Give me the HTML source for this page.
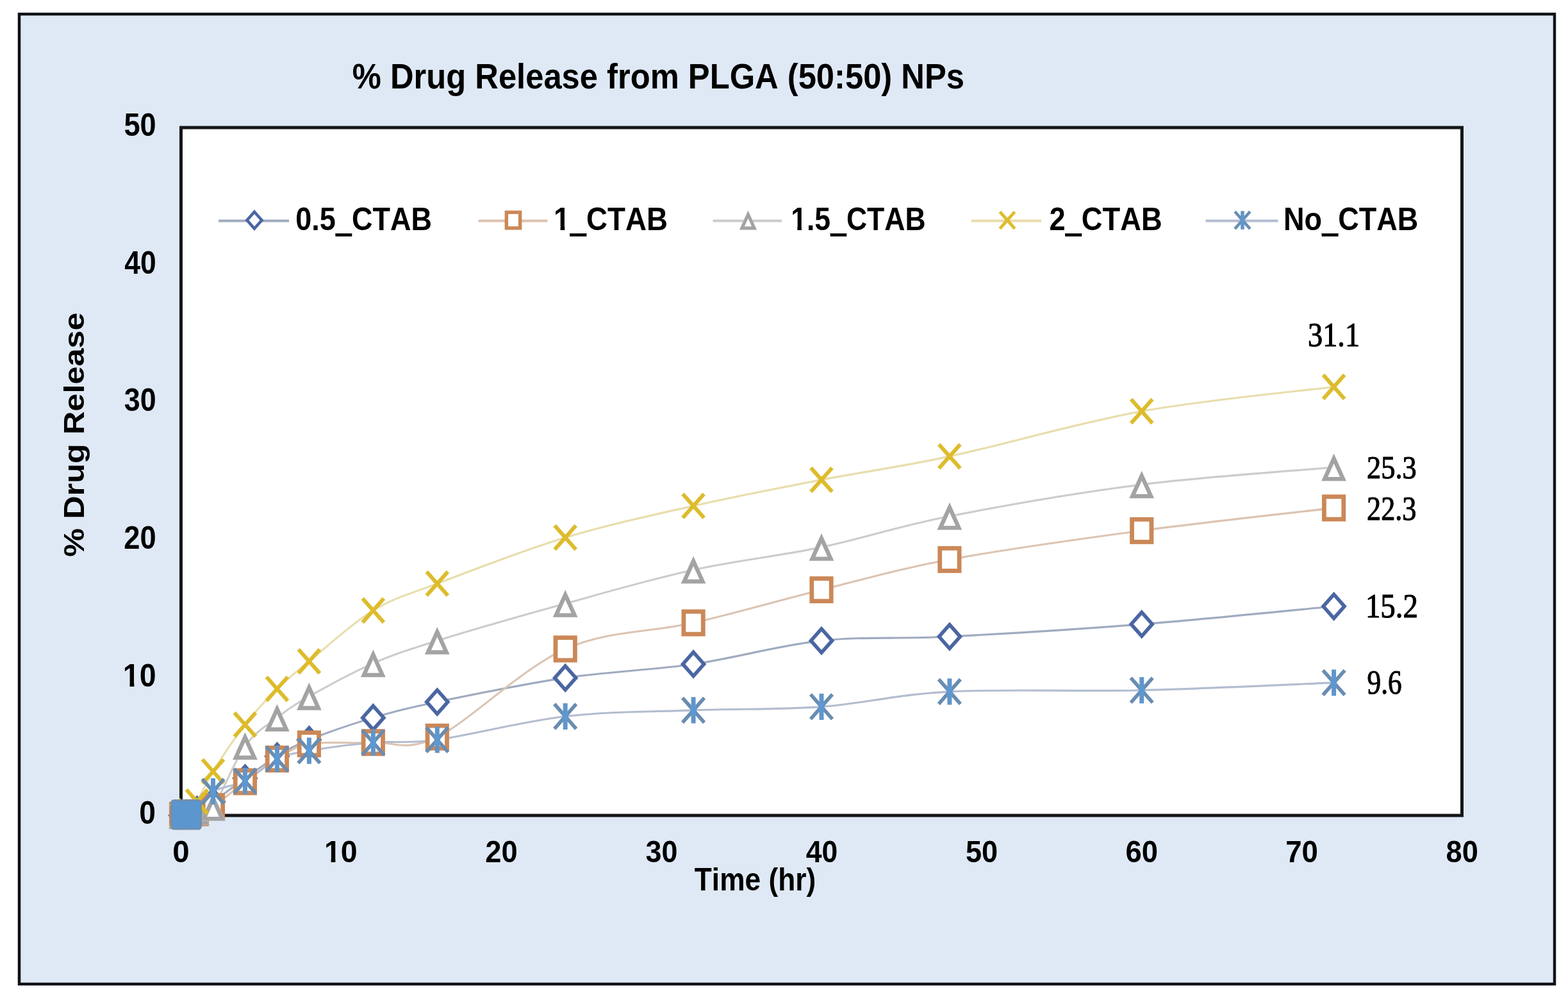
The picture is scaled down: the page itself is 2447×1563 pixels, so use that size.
<!DOCTYPE html>
<html><head><meta charset="utf-8"><title>% Drug Release from PLGA (50:50) NPs</title>
<style>
html,body{margin:0;padding:0;background:#fff;}
body{width:2447px;height:1563px;overflow:hidden;}
svg{display:block;}
text{font-kerning:none;letter-spacing:0;}
</style></head>
<body>
<svg width="2447" height="1563" viewBox="0 0 2447 1563">
<rect x="0" y="0" width="2447" height="1563" fill="#fff"/>
<rect x="30" y="22" width="2396" height="1513" fill="#DFE9F5" stroke="#101218" stroke-width="4.5"/>
<rect x="282.5" y="199.0" width="1999.0" height="1073.0" fill="#fff" stroke="#141619" stroke-width="5"/>
<text transform="translate(549.74 138.10) scale(0.9015 1)" font-family="'Liberation Sans', Arial, sans-serif" font-weight="bold" font-size="56.25" fill="#000" >% Drug Release from PLGA (50:50) NPs</text>
<line x1="341" y1="344.5" x2="451" y2="344.5" stroke="#A0ABC0" stroke-width="4.2"/>
<path d="M397.00,330.48 L408.55,343.50 L397.00,356.52 L385.45,343.50 Z" fill="#fff" stroke="#4A66A2" stroke-width="4.48" stroke-linejoin="miter" stroke-miterlimit="4"/>
<text transform="translate(461.22 358.50) scale(0.8985 1)" font-family="'Liberation Sans', Arial, sans-serif" font-weight="bold" font-size="50.15" fill="#000" >0.5_CTAB</text>
<rect x="523.41" y="362.21" width="25.89" height="2.12" fill="#fff"/>
<rect x="523.41" y="364.33" width="25.89" height="4.46" fill="#000"/>
<line x1="746.5" y1="344.5" x2="854.5" y2="344.5" stroke="#DCC4B2" stroke-width="4.2"/>
<rect x="790.36" y="331.18" width="21.28" height="24.64" fill="#fff" stroke="#CB8857" stroke-width="5.44"/>
<text transform="translate(864.12 358.50) scale(0.9124 1)" font-family="'Liberation Sans', Arial, sans-serif" font-weight="bold" font-size="50.15" fill="#000" >1_CTAB</text>
<rect x="865.01" y="352.78" width="9.58" height="6.92" fill="#fff"/>
<rect x="881.27" y="352.78" width="8.53" height="6.92" fill="#fff"/>
<rect x="889.12" y="362.21" width="26.29" height="2.12" fill="#fff"/>
<rect x="889.12" y="364.33" width="26.29" height="4.46" fill="#000"/>
<line x1="1112.5" y1="344.5" x2="1220" y2="344.5" stroke="#CCCCCC" stroke-width="4.2"/>
<path d="M1167.50,328.45 L1181.08,358.41 L1153.92,358.41 Z" fill="#fff"/><path d="M1167.50,328.45 L1181.08,358.41 L1153.92,358.41 Z M1167.50,340.85 L1161.86,353.29 L1173.14,353.29 Z" fill="#A3A3A3" fill-rule="evenodd"/>
<text transform="translate(1234.19 358.50) scale(0.8884 1)" font-family="'Liberation Sans', Arial, sans-serif" font-weight="bold" font-size="50.15" fill="#000" >1.5_CTAB</text>
<rect x="1235.06" y="352.78" width="9.33" height="6.92" fill="#fff"/>
<rect x="1250.90" y="352.78" width="8.31" height="6.92" fill="#fff"/>
<rect x="1295.69" y="362.21" width="25.60" height="2.12" fill="#fff"/>
<rect x="1295.69" y="364.33" width="25.60" height="4.46" fill="#000"/>
<line x1="1516" y1="344.5" x2="1625" y2="344.5" stroke="#E8DDAC" stroke-width="4.2"/>
<path d="M1560.38,330.41 L1583.62,356.59 M1583.62,330.41 L1560.38,356.59" fill="none" stroke="#DDBC2C" stroke-width="4.80"/>
<text transform="translate(1637.43 358.50) scale(0.9035 1)" font-family="'Liberation Sans', Arial, sans-serif" font-weight="bold" font-size="50.15" fill="#000" >2_CTAB</text>
<rect x="1662.18" y="362.21" width="26.04" height="2.12" fill="#fff"/>
<rect x="1662.18" y="364.33" width="26.04" height="4.46" fill="#000"/>
<line x1="1881.6" y1="344.5" x2="1994.5" y2="344.5" stroke="#B3BDD0" stroke-width="4.2"/>
<path d="M1927.10,329.99 L1950.90,357.01 M1950.90,329.99 L1927.10,357.01" fill="none" stroke="#6A8CB0" stroke-width="4.48"/><path d="M1939.00,329.15 L1939.00,357.85" fill="none" stroke="#5F96CC" stroke-width="5.60"/><rect x="1935.85" y="338.60" width="6.30" height="9.80" fill="#5D98D2"/>
<text transform="translate(2002.98 358.50) scale(0.8990 1)" font-family="'Liberation Sans', Arial, sans-serif" font-weight="bold" font-size="50.15" fill="#000" >No_CTAB</text>
<rect x="2062.64" y="362.21" width="25.91" height="2.12" fill="#fff"/>
<rect x="2062.64" y="364.33" width="25.91" height="4.46" fill="#000"/>
<text transform="translate(193.41 212.20) scale(0.9168 1)" font-family="'Liberation Sans', Arial, sans-serif" font-weight="bold" font-size="49.27" fill="#000" >50</text>
<text transform="translate(194.13 426.80) scale(0.9033 1)" font-family="'Liberation Sans', Arial, sans-serif" font-weight="bold" font-size="49.27" fill="#000" >40</text>
<text transform="translate(193.77 641.40) scale(0.9100 1)" font-family="'Liberation Sans', Arial, sans-serif" font-weight="bold" font-size="49.27" fill="#000" >30</text>
<text transform="translate(193.23 856.00) scale(0.9203 1)" font-family="'Liberation Sans', Arial, sans-serif" font-weight="bold" font-size="49.27" fill="#000" >20</text>
<text transform="translate(191.86 1070.60) scale(0.9461 1)" font-family="'Liberation Sans', Arial, sans-serif" font-weight="bold" font-size="49.27" fill="#000" >10</text>
<rect x="192.77" y="1064.97" width="9.77" height="6.83" fill="#DFE9F5"/>
<rect x="209.34" y="1064.97" width="8.70" height="6.83" fill="#DFE9F5"/>
<text transform="translate(217.37 1285.20) scale(0.9389 1)" font-family="'Liberation Sans', Arial, sans-serif" font-weight="bold" font-size="49.27" fill="#000" >0</text>
<text transform="translate(269.32 1345.20) scale(0.9846 1)" font-family="'Liberation Sans', Arial, sans-serif" font-weight="bold" font-size="48.26" fill="#000" >0</text>
<text transform="translate(505.94 1345.20) scale(0.9658 1)" font-family="'Liberation Sans', Arial, sans-serif" font-weight="bold" font-size="48.26" fill="#000" >10</text>
<rect x="506.85" y="1339.67" width="9.77" height="6.73" fill="#DFE9F5"/>
<rect x="523.41" y="1339.67" width="8.70" height="6.73" fill="#DFE9F5"/>
<text transform="translate(757.18 1345.20) scale(0.9394 1)" font-family="'Liberation Sans', Arial, sans-serif" font-weight="bold" font-size="48.26" fill="#000" >20</text>
<text transform="translate(1007.60 1345.20) scale(0.9289 1)" font-family="'Liberation Sans', Arial, sans-serif" font-weight="bold" font-size="48.26" fill="#000" >30</text>
<text transform="translate(1257.83 1345.20) scale(0.9220 1)" font-family="'Liberation Sans', Arial, sans-serif" font-weight="bold" font-size="48.26" fill="#000" >40</text>
<text transform="translate(1506.99 1345.20) scale(0.9359 1)" font-family="'Liberation Sans', Arial, sans-serif" font-weight="bold" font-size="48.26" fill="#000" >50</text>
<text transform="translate(1756.59 1345.20) scale(0.9412 1)" font-family="'Liberation Sans', Arial, sans-serif" font-weight="bold" font-size="48.26" fill="#000" >60</text>
<text transform="translate(2006.16 1345.20) scale(0.9470 1)" font-family="'Liberation Sans', Arial, sans-serif" font-weight="bold" font-size="48.26" fill="#000" >70</text>
<text transform="translate(2256.57 1345.20) scale(0.9368 1)" font-family="'Liberation Sans', Arial, sans-serif" font-weight="bold" font-size="48.26" fill="#000" >80</text>
<text transform="translate(1083.80 1389.00) scale(0.8959 1)" font-family="'Liberation Sans', Arial, sans-serif" font-weight="bold" font-size="49.42" fill="#000" >Time (hr)</text>
<text transform="translate(130.50 868.76) rotate(-90) scale(1.1574 1)" font-family="'Liberation Sans', Arial, sans-serif" font-weight="bold" font-size="43.61" fill="#000">% Drug Release</text>
<path d="M282.50,1272.00 C284.58,1271.64 290.83,1271.28 294.99,1269.85 C299.16,1268.42 301.24,1266.63 307.49,1263.42 C313.73,1260.20 319.98,1258.77 332.48,1250.54 C344.97,1242.31 365.79,1225.86 382.45,1214.06 C399.11,1202.26 415.77,1189.74 432.43,1179.72 C449.08,1169.71 457.41,1163.98 482.40,1153.97 C507.39,1143.96 549.03,1129.47 582.35,1119.63 C615.67,1109.80 632.32,1105.33 682.30,1094.95 C732.27,1084.58 815.57,1067.24 882.20,1057.40 C948.83,1047.56 1015.47,1045.60 1082.10,1035.94 C1148.73,1026.28 1215.37,1006.61 1282.00,999.46 C1348.63,992.30 1398.61,997.31 1481.90,993.02 C1565.19,988.73 1681.80,981.57 1781.75,973.71 C1881.70,965.84 2031.62,950.46 2081.60,945.81" fill="none" stroke="#A0ABC0" stroke-width="3.1"/>
<path d="M282.50,1272.00 C284.58,1271.64 290.83,1270.57 294.99,1269.85 C299.16,1269.14 301.24,1269.68 307.49,1267.71 C313.73,1265.74 319.98,1266.10 332.48,1258.05 C344.97,1250.00 365.79,1231.76 382.45,1219.42 C399.11,1207.08 415.77,1193.85 432.43,1184.01 C449.08,1174.18 457.41,1164.70 482.40,1160.41 C507.39,1156.12 549.03,1160.05 582.35,1158.26 C615.67,1156.47 632.32,1174.00 682.30,1149.68 C732.27,1125.36 815.57,1042.02 882.20,1012.33 C948.83,982.65 1015.47,986.94 1082.10,971.56 C1148.73,956.18 1215.37,936.51 1282.00,920.06 C1348.63,903.60 1398.61,888.22 1481.90,872.84 C1565.19,857.46 1681.80,841.19 1781.75,827.78 C1881.70,814.37 2031.62,798.27 2081.60,792.37" fill="none" stroke="#DCC4B2" stroke-width="3.1"/>
<path d="M282.50,1272.00 C284.58,1271.64 290.83,1270.93 294.99,1269.85 C299.16,1268.78 301.24,1267.35 307.49,1265.56 C313.73,1263.77 319.98,1276.11 332.48,1259.12 C344.97,1242.13 365.79,1186.88 382.45,1163.63 C399.11,1140.38 415.77,1132.51 432.43,1119.63 C449.08,1106.76 457.41,1100.50 482.40,1086.37 C507.39,1072.24 549.03,1049.35 582.35,1034.87 C615.67,1020.38 632.32,1015.02 682.30,999.46 C732.27,983.90 815.57,959.94 882.20,941.52 C948.83,923.10 1015.47,903.60 1082.10,888.94 C1148.73,874.27 1215.37,867.48 1282.00,853.53 C1348.63,839.58 1398.61,821.52 1481.90,805.25 C1565.19,788.97 1681.80,768.58 1781.75,755.89 C1881.70,743.19 2031.62,733.53 2081.60,729.06" fill="none" stroke="#CCCCCC" stroke-width="3.1"/>
<path d="M282.50,1272.00 C284.58,1270.93 290.83,1269.14 294.99,1265.56 C299.16,1261.99 301.24,1260.91 307.49,1250.54 C313.73,1240.17 319.98,1223.36 332.48,1203.33 C344.97,1183.30 365.79,1151.82 382.45,1130.36 C399.11,1108.90 415.77,1091.02 432.43,1074.57 C449.08,1058.12 457.41,1052.04 482.40,1031.65 C507.39,1011.26 549.03,972.45 582.35,952.25 C615.67,932.04 632.32,929.36 682.30,910.40 C732.27,891.44 815.57,858.72 882.20,838.51 C948.83,818.30 1015.47,804.17 1082.10,789.15 C1148.73,774.13 1215.37,761.25 1282.00,748.38 C1348.63,735.50 1398.61,729.71 1481.90,711.89 C1565.19,694.08 1681.80,659.57 1781.75,641.51 C1881.70,623.44 2031.62,609.85 2081.60,603.52" fill="none" stroke="#E8DDAC" stroke-width="3.1"/>
<path d="M282.50,1269.85 C284.58,1269.85 286.66,1275.76 294.99,1269.85 C303.32,1263.95 317.90,1243.03 332.48,1234.44 C347.05,1225.86 365.79,1226.76 382.45,1218.35 C399.11,1209.94 415.77,1191.88 432.43,1184.01 C449.08,1176.15 457.41,1175.43 482.40,1171.14 C507.39,1166.85 549.03,1161.12 582.35,1158.26 C615.67,1155.40 632.32,1160.77 682.30,1153.97 C732.27,1147.17 815.57,1125.18 882.20,1117.49 C948.83,1109.80 1015.47,1110.33 1082.10,1107.83 C1148.73,1105.33 1215.37,1107.29 1282.00,1102.47 C1348.63,1097.64 1398.61,1083.15 1481.90,1078.86 C1565.19,1074.57 1681.80,1079.04 1781.75,1076.71 C1881.70,1074.39 2031.62,1066.88 2081.60,1064.91" fill="none" stroke="#B3BDD0" stroke-width="3.1"/>
<path d="M282.50,1253.40 L299.00,1272.00 L282.50,1290.60 L266.00,1272.00 Z" fill="#fff" stroke="#4A66A2" stroke-width="5.60" stroke-linejoin="miter" stroke-miterlimit="4"/>
<path d="M294.99,1251.25 L311.49,1269.85 L294.99,1288.45 L278.49,1269.85 Z" fill="#fff" stroke="#4A66A2" stroke-width="5.60" stroke-linejoin="miter" stroke-miterlimit="4"/>
<path d="M307.49,1244.82 L323.99,1263.42 L307.49,1282.02 L290.99,1263.42 Z" fill="#fff" stroke="#4A66A2" stroke-width="5.60" stroke-linejoin="miter" stroke-miterlimit="4"/>
<path d="M332.48,1231.94 L348.98,1250.54 L332.48,1269.14 L315.98,1250.54 Z" fill="#fff" stroke="#4A66A2" stroke-width="5.60" stroke-linejoin="miter" stroke-miterlimit="4"/>
<path d="M382.45,1195.46 L398.95,1214.06 L382.45,1232.66 L365.95,1214.06 Z" fill="#fff" stroke="#4A66A2" stroke-width="5.60" stroke-linejoin="miter" stroke-miterlimit="4"/>
<path d="M432.43,1161.12 L448.93,1179.72 L432.43,1198.32 L415.93,1179.72 Z" fill="#fff" stroke="#4A66A2" stroke-width="5.60" stroke-linejoin="miter" stroke-miterlimit="4"/>
<path d="M482.40,1135.37 L498.90,1153.97 L482.40,1172.57 L465.90,1153.97 Z" fill="#fff" stroke="#4A66A2" stroke-width="5.60" stroke-linejoin="miter" stroke-miterlimit="4"/>
<path d="M582.35,1101.03 L598.85,1119.63 L582.35,1138.23 L565.85,1119.63 Z" fill="#fff" stroke="#4A66A2" stroke-width="5.60" stroke-linejoin="miter" stroke-miterlimit="4"/>
<path d="M682.30,1076.36 L698.80,1094.95 L682.30,1113.55 L665.80,1094.95 Z" fill="#fff" stroke="#4A66A2" stroke-width="5.60" stroke-linejoin="miter" stroke-miterlimit="4"/>
<path d="M882.20,1038.80 L898.70,1057.40 L882.20,1076.00 L865.70,1057.40 Z" fill="#fff" stroke="#4A66A2" stroke-width="5.60" stroke-linejoin="miter" stroke-miterlimit="4"/>
<path d="M1082.10,1017.34 L1098.60,1035.94 L1082.10,1054.54 L1065.60,1035.94 Z" fill="#fff" stroke="#4A66A2" stroke-width="5.60" stroke-linejoin="miter" stroke-miterlimit="4"/>
<path d="M1282.00,980.86 L1298.50,999.46 L1282.00,1018.06 L1265.50,999.46 Z" fill="#fff" stroke="#4A66A2" stroke-width="5.60" stroke-linejoin="miter" stroke-miterlimit="4"/>
<path d="M1481.90,974.42 L1498.40,993.02 L1481.90,1011.62 L1465.40,993.02 Z" fill="#fff" stroke="#4A66A2" stroke-width="5.60" stroke-linejoin="miter" stroke-miterlimit="4"/>
<path d="M1781.75,955.11 L1798.25,973.71 L1781.75,992.31 L1765.25,973.71 Z" fill="#fff" stroke="#4A66A2" stroke-width="5.60" stroke-linejoin="miter" stroke-miterlimit="4"/>
<path d="M2081.60,927.21 L2098.10,945.81 L2081.60,964.41 L2065.10,945.81 Z" fill="#fff" stroke="#4A66A2" stroke-width="5.60" stroke-linejoin="miter" stroke-miterlimit="4"/>
<rect x="267.30" y="1254.40" width="30.40" height="35.20" fill="#fff" stroke="#CB8857" stroke-width="6.80"/>
<rect x="279.79" y="1252.25" width="30.40" height="35.20" fill="#fff" stroke="#CB8857" stroke-width="6.80"/>
<rect x="292.29" y="1250.11" width="30.40" height="35.20" fill="#fff" stroke="#CB8857" stroke-width="6.80"/>
<rect x="317.28" y="1240.45" width="30.40" height="35.20" fill="#fff" stroke="#CB8857" stroke-width="6.80"/>
<rect x="367.25" y="1201.82" width="30.40" height="35.20" fill="#fff" stroke="#CB8857" stroke-width="6.80"/>
<rect x="417.23" y="1166.41" width="30.40" height="35.20" fill="#fff" stroke="#CB8857" stroke-width="6.80"/>
<rect x="467.20" y="1142.81" width="30.40" height="35.20" fill="#fff" stroke="#CB8857" stroke-width="6.80"/>
<rect x="567.15" y="1140.66" width="30.40" height="35.20" fill="#fff" stroke="#CB8857" stroke-width="6.80"/>
<rect x="667.10" y="1132.08" width="30.40" height="35.20" fill="#fff" stroke="#CB8857" stroke-width="6.80"/>
<rect x="867.00" y="994.73" width="30.40" height="35.20" fill="#fff" stroke="#CB8857" stroke-width="6.80"/>
<rect x="1066.90" y="953.96" width="30.40" height="35.20" fill="#fff" stroke="#CB8857" stroke-width="6.80"/>
<rect x="1266.80" y="902.46" width="30.40" height="35.20" fill="#fff" stroke="#CB8857" stroke-width="6.80"/>
<rect x="1466.70" y="855.24" width="30.40" height="35.20" fill="#fff" stroke="#CB8857" stroke-width="6.80"/>
<rect x="1766.55" y="810.18" width="30.40" height="35.20" fill="#fff" stroke="#CB8857" stroke-width="6.80"/>
<rect x="2066.40" y="774.77" width="30.40" height="35.20" fill="#fff" stroke="#CB8857" stroke-width="6.80"/>
<path d="M282.50,1250.50 L301.90,1293.30 L263.10,1293.30 Z" fill="#fff"/><path d="M282.50,1250.50 L301.90,1293.30 L263.10,1293.30 Z M282.50,1266.00 L273.03,1286.90 L291.97,1286.90 Z" fill="#A3A3A3" fill-rule="evenodd"/>
<path d="M294.99,1248.35 L314.39,1291.15 L275.59,1291.15 Z" fill="#fff"/><path d="M294.99,1248.35 L314.39,1291.15 L275.59,1291.15 Z M294.99,1263.86 L285.52,1284.75 L304.47,1284.75 Z" fill="#A3A3A3" fill-rule="evenodd"/>
<path d="M307.49,1244.06 L326.89,1286.86 L288.09,1286.86 Z" fill="#fff"/><path d="M307.49,1244.06 L326.89,1286.86 L288.09,1286.86 Z M307.49,1259.56 L298.02,1280.46 L316.96,1280.46 Z" fill="#A3A3A3" fill-rule="evenodd"/>
<path d="M332.48,1237.62 L351.88,1280.42 L313.08,1280.42 Z" fill="#fff"/><path d="M332.48,1237.62 L351.88,1280.42 L313.08,1280.42 Z M332.48,1253.13 L323.00,1274.02 L341.95,1274.02 Z" fill="#A3A3A3" fill-rule="evenodd"/>
<path d="M382.45,1142.13 L401.85,1184.93 L363.05,1184.93 Z" fill="#fff"/><path d="M382.45,1142.13 L401.85,1184.93 L363.05,1184.93 Z M382.45,1157.63 L372.98,1178.53 L391.92,1178.53 Z" fill="#A3A3A3" fill-rule="evenodd"/>
<path d="M432.43,1098.13 L451.82,1140.93 L413.03,1140.93 Z" fill="#fff"/><path d="M432.43,1098.13 L451.82,1140.93 L413.03,1140.93 Z M432.43,1113.64 L422.95,1134.53 L441.90,1134.53 Z" fill="#A3A3A3" fill-rule="evenodd"/>
<path d="M482.40,1064.87 L501.80,1107.67 L463.00,1107.67 Z" fill="#fff"/><path d="M482.40,1064.87 L501.80,1107.67 L463.00,1107.67 Z M482.40,1080.37 L472.93,1101.27 L491.87,1101.27 Z" fill="#A3A3A3" fill-rule="evenodd"/>
<path d="M582.35,1013.37 L601.75,1056.17 L562.95,1056.17 Z" fill="#fff"/><path d="M582.35,1013.37 L601.75,1056.17 L562.95,1056.17 Z M582.35,1028.87 L572.88,1049.77 L591.82,1049.77 Z" fill="#A3A3A3" fill-rule="evenodd"/>
<path d="M682.30,977.96 L701.70,1020.76 L662.90,1020.76 Z" fill="#fff"/><path d="M682.30,977.96 L701.70,1020.76 L662.90,1020.76 Z M682.30,993.46 L672.83,1014.36 L691.77,1014.36 Z" fill="#A3A3A3" fill-rule="evenodd"/>
<path d="M882.20,920.02 L901.60,962.82 L862.80,962.82 Z" fill="#fff"/><path d="M882.20,920.02 L901.60,962.82 L862.80,962.82 Z M882.20,935.52 L872.73,956.42 L891.67,956.42 Z" fill="#A3A3A3" fill-rule="evenodd"/>
<path d="M1082.10,867.44 L1101.50,910.24 L1062.70,910.24 Z" fill="#fff"/><path d="M1082.10,867.44 L1101.50,910.24 L1062.70,910.24 Z M1082.10,882.94 L1072.63,903.84 L1091.57,903.84 Z" fill="#A3A3A3" fill-rule="evenodd"/>
<path d="M1282.00,832.03 L1301.40,874.83 L1262.60,874.83 Z" fill="#fff"/><path d="M1282.00,832.03 L1301.40,874.83 L1262.60,874.83 Z M1282.00,847.53 L1272.53,868.43 L1291.47,868.43 Z" fill="#A3A3A3" fill-rule="evenodd"/>
<path d="M1481.90,783.75 L1501.30,826.54 L1462.50,826.54 Z" fill="#fff"/><path d="M1481.90,783.75 L1501.30,826.54 L1462.50,826.54 Z M1481.90,799.25 L1472.43,820.14 L1491.37,820.14 Z" fill="#A3A3A3" fill-rule="evenodd"/>
<path d="M1781.75,734.39 L1801.15,777.19 L1762.35,777.19 Z" fill="#fff"/><path d="M1781.75,734.39 L1801.15,777.19 L1762.35,777.19 Z M1781.75,749.89 L1772.28,770.79 L1791.22,770.79 Z" fill="#A3A3A3" fill-rule="evenodd"/>
<path d="M2081.60,707.56 L2101.00,750.36 L2062.20,750.36 Z" fill="#fff"/><path d="M2081.60,707.56 L2101.00,750.36 L2062.20,750.36 Z M2081.60,723.06 L2072.13,743.96 L2091.07,743.96 Z" fill="#A3A3A3" fill-rule="evenodd"/>
<path d="M265.90,1253.30 L299.10,1290.70 M299.10,1253.30 L265.90,1290.70" fill="none" stroke="#DDBC2C" stroke-width="6.00"/>
<path d="M278.39,1246.86 L311.59,1284.26 M311.59,1246.86 L278.39,1284.26" fill="none" stroke="#DDBC2C" stroke-width="6.00"/>
<path d="M290.89,1231.84 L324.09,1269.24 M324.09,1231.84 L290.89,1269.24" fill="none" stroke="#DDBC2C" stroke-width="6.00"/>
<path d="M315.88,1184.63 L349.08,1222.03 M349.08,1184.63 L315.88,1222.03" fill="none" stroke="#DDBC2C" stroke-width="6.00"/>
<path d="M365.85,1111.66 L399.05,1149.06 M399.05,1111.66 L365.85,1149.06" fill="none" stroke="#DDBC2C" stroke-width="6.00"/>
<path d="M415.82,1055.87 L449.03,1093.27 M449.03,1055.87 L415.82,1093.27" fill="none" stroke="#DDBC2C" stroke-width="6.00"/>
<path d="M465.80,1012.95 L499.00,1050.35 M499.00,1012.95 L465.80,1050.35" fill="none" stroke="#DDBC2C" stroke-width="6.00"/>
<path d="M565.75,933.55 L598.95,970.95 M598.95,933.55 L565.75,970.95" fill="none" stroke="#DDBC2C" stroke-width="6.00"/>
<path d="M665.70,891.70 L698.90,929.10 M698.90,891.70 L665.70,929.10" fill="none" stroke="#DDBC2C" stroke-width="6.00"/>
<path d="M865.60,819.81 L898.80,857.21 M898.80,819.81 L865.60,857.21" fill="none" stroke="#DDBC2C" stroke-width="6.00"/>
<path d="M1065.50,770.45 L1098.70,807.85 M1098.70,770.45 L1065.50,807.85" fill="none" stroke="#DDBC2C" stroke-width="6.00"/>
<path d="M1265.40,729.68 L1298.60,767.08 M1298.60,729.68 L1265.40,767.08" fill="none" stroke="#DDBC2C" stroke-width="6.00"/>
<path d="M1465.30,693.19 L1498.50,730.59 M1498.50,693.19 L1465.30,730.59" fill="none" stroke="#DDBC2C" stroke-width="6.00"/>
<path d="M1765.15,622.81 L1798.35,660.21 M1798.35,622.81 L1765.15,660.21" fill="none" stroke="#DDBC2C" stroke-width="6.00"/>
<path d="M2065.00,584.82 L2098.20,622.22 M2098.20,584.82 L2065.00,622.22" fill="none" stroke="#DDBC2C" stroke-width="6.00"/>
<rect x="267.5" y="1248.5" width="46" height="44.5" rx="4" fill="#5B96CF" stroke="#7090AE" stroke-width="3"/>
<path d="M315.48,1215.14 L349.48,1253.74 M349.48,1215.14 L315.48,1253.74" fill="none" stroke="#6A8CB0" stroke-width="5.60"/><path d="M332.48,1213.94 L332.48,1254.94" fill="none" stroke="#5F96CC" stroke-width="7.00"/><rect x="327.98" y="1227.44" width="9.00" height="14.00" fill="#5D98D2"/>
<path d="M365.45,1199.05 L399.45,1237.65 M399.45,1199.05 L365.45,1237.65" fill="none" stroke="#6A8CB0" stroke-width="5.60"/><path d="M382.45,1197.85 L382.45,1238.85" fill="none" stroke="#5F96CC" stroke-width="7.00"/><rect x="377.95" y="1211.35" width="9.00" height="14.00" fill="#5D98D2"/>
<path d="M415.43,1164.71 L449.43,1203.31 M449.43,1164.71 L415.43,1203.31" fill="none" stroke="#6A8CB0" stroke-width="5.60"/><path d="M432.43,1163.51 L432.43,1204.51" fill="none" stroke="#5F96CC" stroke-width="7.00"/><rect x="427.93" y="1177.01" width="9.00" height="14.00" fill="#5D98D2"/>
<path d="M465.40,1151.84 L499.40,1190.44 M499.40,1151.84 L465.40,1190.44" fill="none" stroke="#6A8CB0" stroke-width="5.60"/><path d="M482.40,1150.64 L482.40,1191.64" fill="none" stroke="#5F96CC" stroke-width="7.00"/><rect x="477.90" y="1164.14" width="9.00" height="14.00" fill="#5D98D2"/>
<path d="M565.35,1138.96 L599.35,1177.56 M599.35,1138.96 L565.35,1177.56" fill="none" stroke="#6A8CB0" stroke-width="5.60"/><path d="M582.35,1137.76 L582.35,1178.76" fill="none" stroke="#5F96CC" stroke-width="7.00"/><rect x="577.85" y="1151.26" width="9.00" height="14.00" fill="#5D98D2"/>
<path d="M665.30,1134.67 L699.30,1173.27 M699.30,1134.67 L665.30,1173.27" fill="none" stroke="#6A8CB0" stroke-width="5.60"/><path d="M682.30,1133.47 L682.30,1174.47" fill="none" stroke="#5F96CC" stroke-width="7.00"/><rect x="677.80" y="1146.97" width="9.00" height="14.00" fill="#5D98D2"/>
<path d="M865.20,1098.19 L899.20,1136.79 M899.20,1098.19 L865.20,1136.79" fill="none" stroke="#6A8CB0" stroke-width="5.60"/><path d="M882.20,1096.99 L882.20,1137.99" fill="none" stroke="#5F96CC" stroke-width="7.00"/><rect x="877.70" y="1110.49" width="9.00" height="14.00" fill="#5D98D2"/>
<path d="M1065.10,1088.53 L1099.10,1127.13 M1099.10,1088.53 L1065.10,1127.13" fill="none" stroke="#6A8CB0" stroke-width="5.60"/><path d="M1082.10,1087.33 L1082.10,1128.33" fill="none" stroke="#5F96CC" stroke-width="7.00"/><rect x="1077.60" y="1100.83" width="9.00" height="14.00" fill="#5D98D2"/>
<path d="M1265.00,1083.17 L1299.00,1121.77 M1299.00,1083.17 L1265.00,1121.77" fill="none" stroke="#6A8CB0" stroke-width="5.60"/><path d="M1282.00,1081.97 L1282.00,1122.97" fill="none" stroke="#5F96CC" stroke-width="7.00"/><rect x="1277.50" y="1095.47" width="9.00" height="14.00" fill="#5D98D2"/>
<path d="M1464.90,1059.56 L1498.90,1098.16 M1498.90,1059.56 L1464.90,1098.16" fill="none" stroke="#6A8CB0" stroke-width="5.60"/><path d="M1481.90,1058.36 L1481.90,1099.36" fill="none" stroke="#5F96CC" stroke-width="7.00"/><rect x="1477.40" y="1071.86" width="9.00" height="14.00" fill="#5D98D2"/>
<path d="M1764.75,1057.41 L1798.75,1096.01 M1798.75,1057.41 L1764.75,1096.01" fill="none" stroke="#6A8CB0" stroke-width="5.60"/><path d="M1781.75,1056.21 L1781.75,1097.21" fill="none" stroke="#5F96CC" stroke-width="7.00"/><rect x="1777.25" y="1069.71" width="9.00" height="14.00" fill="#5D98D2"/>
<path d="M2064.60,1045.61 L2098.60,1084.21 M2098.60,1045.61 L2064.60,1084.21" fill="none" stroke="#6A8CB0" stroke-width="5.60"/><path d="M2081.60,1044.41 L2081.60,1085.41" fill="none" stroke="#5F96CC" stroke-width="7.00"/><rect x="2077.10" y="1057.91" width="9.00" height="14.00" fill="#5D98D2"/>
<text transform="translate(2041.09 539.50) scale(0.8934 1)" font-family="'Liberation Serif', 'Times New Roman', serif" font-weight="normal" font-size="51.81" fill="#000" stroke="#000" stroke-width="1.1">31.1</text>
<text transform="translate(2133.05 745.70) scale(0.8619 1)" font-family="'Liberation Serif', 'Times New Roman', serif" font-weight="normal" font-size="51.50" fill="#000" stroke="#000" stroke-width="1.1">25.3</text>
<text transform="translate(2133.06 810.70) scale(0.8363 1)" font-family="'Liberation Serif', 'Times New Roman', serif" font-weight="normal" font-size="52.87" fill="#000" stroke="#000" stroke-width="1.1">22.3</text>
<text transform="translate(2130.88 962.70) scale(0.9005 1)" font-family="'Liberation Serif', 'Times New Roman', serif" font-weight="normal" font-size="52.11" fill="#000" stroke="#000" stroke-width="1.1">15.2</text>
<text transform="translate(2133.61 1081.70) scale(0.8303 1)" font-family="'Liberation Serif', 'Times New Roman', serif" font-weight="normal" font-size="52.11" fill="#000" stroke="#000" stroke-width="1.1">9.6</text>
</svg>
</body></html>
